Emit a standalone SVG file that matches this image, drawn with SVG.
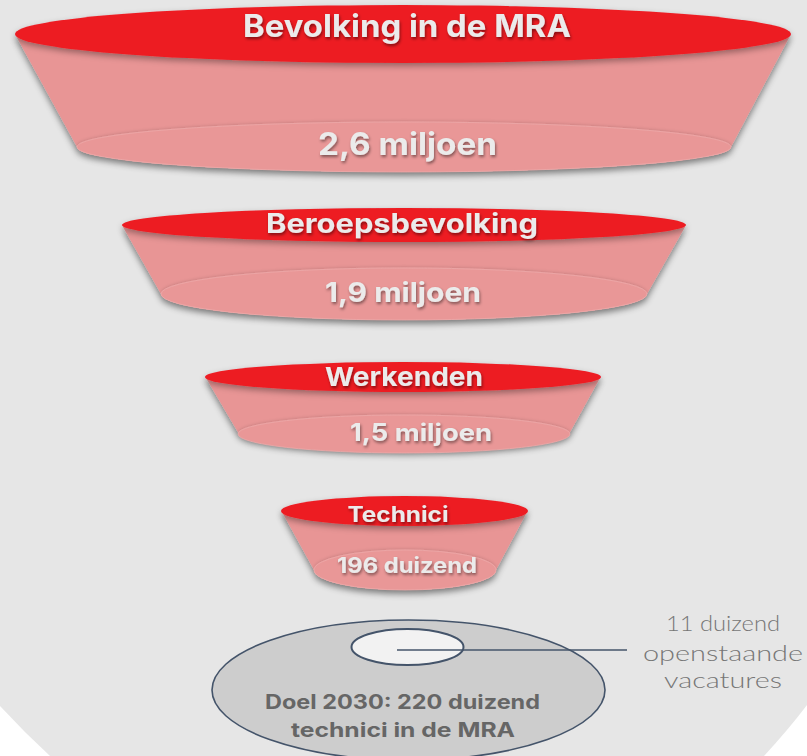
<svg xmlns="http://www.w3.org/2000/svg" width="807" height="756" viewBox="0 0 807 756">
  <defs>
    <filter id="bodyShadow" x="-10%" y="-20%" width="120%" height="150%">
      <feDropShadow dx="0" dy="4" stdDeviation="3" flood-color="#000" flood-opacity="0.45"/>
    </filter>
    <filter id="rimShadow" x="-10%" y="-50%" width="120%" height="200%">
      <feDropShadow dx="0" dy="3" stdDeviation="3" flood-color="#000" flood-opacity="0.35"/>
    </filter>
    <filter id="textShadow" x="-10%" y="-30%" width="120%" height="170%">
      <feDropShadow dx="1" dy="2" stdDeviation="1.5" flood-color="#000" flood-opacity="0.45"/>
    </filter>
    <filter id="innerSoft" x="-10%" y="-50%" width="120%" height="200%">
      <feDropShadow dx="0" dy="-1" stdDeviation="1.5" flood-color="#000" flood-opacity="0.12"/>
    </filter>
  </defs>
  <style>
    .top { fill: #ed1c24; filter: url(#rimShadow); }
    .body { fill: #e89595; filter: url(#bodyShadow); }
    .rim { fill: #e99797; stroke: #eeaaaa; stroke-width: 0.8; filter: url(#innerSoft); }
    .ttl { font-family: Inter, "Open Sans", "Liberation Sans", sans-serif; font-weight: 700; fill: #ebebeb; text-anchor: middle; filter: url(#textShadow); }
    .goal { font-family: Inter, "Open Sans", "Liberation Sans", sans-serif; font-weight: 700; fill: #666666; text-anchor: middle; font-size: 20px; }
    .lbl { font-family: Lato, "Open Sans", "Liberation Sans", sans-serif; font-weight: 300; fill: #767676; text-anchor: middle; font-size: 22px; }
    .outline { stroke: #44546a; }
  </style>

  <rect x="0" y="0" width="807" height="756" fill="#ffffff"/>
  <path d="M0,0 H807 V705 Q788,730 764,756 H50 Q24,732 0,706 Z" fill="#e6e6e6"/>

  <g id="level-bevolking">
    <path class="body" d="M16,36 L77,147 A327,25 0 0 0 731,147 L790,36 Z"/>
    <ellipse class="rim" cx="404" cy="147" rx="327" ry="25"/>
    <ellipse class="top" cx="403" cy="34" rx="388" ry="29"/>
    <text class="ttl" x="407" y="37" font-size="31" textLength="328" lengthAdjust="spacingAndGlyphs">Bevolking in de MRA</text>
    <text class="ttl" x="407.5" y="155" font-size="31" textLength="179" lengthAdjust="spacingAndGlyphs">2,6 miljoen</text>
  </g>

  <g id="level-beroepsbevolking">
    <path class="body" d="M123,227 L161,294 A243,26 0 0 0 647,294 L685,227 Z"/>
    <ellipse class="rim" cx="404" cy="294" rx="243" ry="26"/>
    <ellipse class="top" cx="404" cy="225" rx="282" ry="17"/>
    <text class="ttl" x="402" y="233" font-size="27" textLength="272" lengthAdjust="spacingAndGlyphs">Beroepsbevolking</text>
    <text class="ttl" x="403" y="302" font-size="27" textLength="156" lengthAdjust="spacingAndGlyphs">1,9 miljoen</text>
  </g>

  <g id="level-werkenden">
    <path class="body" d="M206,378 L239,434 A166,19 0 0 0 569,434 L600,378 Z"/>
    <ellipse class="rim" cx="404" cy="434" rx="166" ry="19"/>
    <ellipse class="top" cx="403" cy="377" rx="198" ry="15"/>
    <text class="ttl" x="404" y="386" font-size="26" textLength="158" lengthAdjust="spacingAndGlyphs">Werkenden</text>
    <text class="ttl" x="421" y="441" font-size="24" textLength="142" lengthAdjust="spacingAndGlyphs">1,5 miljoen</text>
  </g>

  <g id="level-technici">
    <path class="body" d="M282,512 L314,570 A91,20 0 0 0 496,570 L527,512 Z"/>
    <ellipse class="rim" cx="405" cy="570" rx="91" ry="20"/>
    <ellipse class="top" cx="404.5" cy="511" rx="123.5" ry="15"/>
    <text class="ttl" x="398" y="522" font-size="21" textLength="101" lengthAdjust="spacingAndGlyphs">Technici</text>
    <text class="ttl" x="407" y="573" font-size="21" textLength="140" lengthAdjust="spacingAndGlyphs">196 duizend</text>
  </g>

  <g id="goal-2030">
    <ellipse class="outline" cx="408.5" cy="690" rx="196.5" ry="70" fill="#cdcdcd" stroke-width="1.6"/>
    <text class="goal" x="402.5" y="709" textLength="275" lengthAdjust="spacingAndGlyphs">Doel 2030: 220 duizend</text>
    <text class="goal" x="403" y="737" textLength="224" lengthAdjust="spacingAndGlyphs">technici in de MRA</text>
  </g>

  <g id="vacatures">
    <ellipse class="outline" cx="407.5" cy="647" rx="56" ry="18" fill="#f2f2f2" stroke-width="2"/>
  </g>

  <g id="vacatures-label">
    <text class="lbl" x="723" y="631" textLength="114" lengthAdjust="spacingAndGlyphs">11 duizend</text>
    <text class="lbl" x="723" y="661" textLength="160" lengthAdjust="spacingAndGlyphs">openstaande</text>
    <text class="lbl" x="723" y="688" textLength="118" lengthAdjust="spacingAndGlyphs">vacatures</text>
  </g>

  <g id="connectors">
    <line x1="397" y1="650" x2="627" y2="650" stroke="#44546a" stroke-width="1.6"/>
  </g>
</svg>
